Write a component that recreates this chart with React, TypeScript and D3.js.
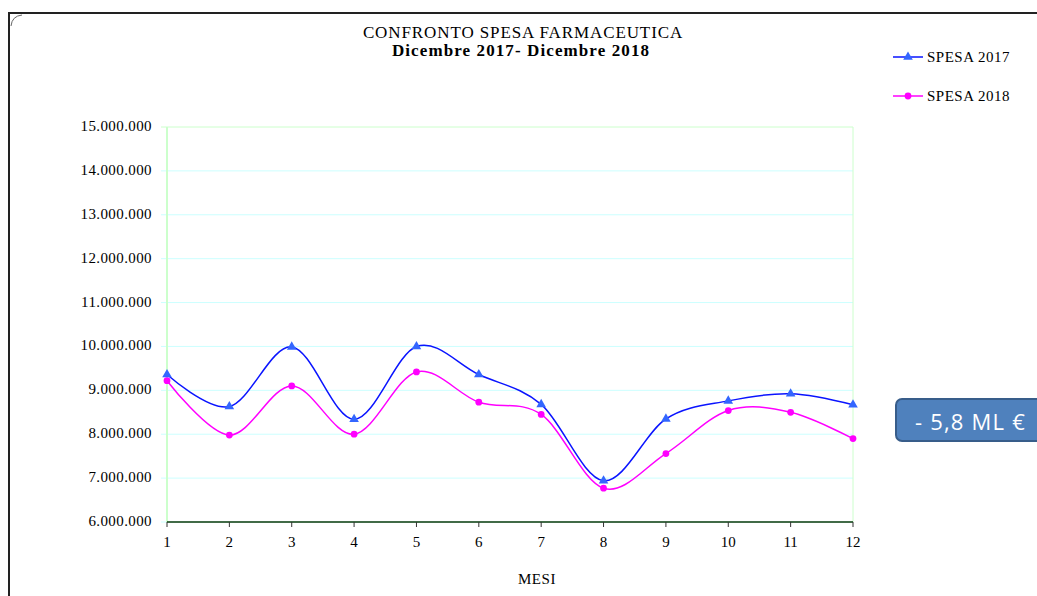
import React from "react";
import * as d3 from "d3";

const months = [1, 2, 3, 4, 5, 6, 7, 8, 9, 10, 11, 12];
const spesa2017 = [9360000, 8630000, 9990000, 8340000, 10000000, 9360000, 8680000, 6940000, 8350000, 8760000, 8920000, 8670000];
const spesa2018 = [9220000, 7980000, 9100000, 8000000, 9420000, 8730000, 8450000, 6770000, 7560000, 8540000, 8500000, 7900000];
const yTicks = [6000000, 7000000, 8000000, 9000000, 10000000, 11000000, 12000000, 13000000, 14000000, 15000000];
const titleLines = ["CONFRONTO SPESA FARMACEUTICA", "Dicembre 2017- Dicembre 2018"];
const seriesNames = ["SPESA 2017", "SPESA 2018"];
const badgeText = "- 5,8 ML €";
const xTitle = "MESI";

const W = 1037, H = 596;
const left = 167, right = 853, top = 127, bottom = 522;
const serif = "'Liberation Serif', 'DejaVu Serif', serif";

const fmt = (v: number) => d3.format(",")(v).replace(/,/g, ".");

export default function App() {
  const x = d3.scaleLinear().domain([1, 12]).range([left, right]);
  const y = d3.scaleLinear().domain([6000000, 15000000]).range([bottom, top]);
  const line = d3.line<number>().x((_, i) => x(months[i])).y((d) => y(d)).curve(d3.curveCardinal.tension(0));
  const tri = d3.symbol(d3.symbolTriangle, 40)();
  const circ = d3.symbol(d3.symbolCircle, 36)();
  const blue = "#0a14ff", blueMark = "#3366ff", pink = "#ff00ff";

  return (
    <svg width={W} height={H} style={{ position: "absolute", left: 0, top: 0, display: "block" }}>
      <rect x={0} y={0} width={W} height={H} fill="#fff" />
      {/* frame */}
      <rect x={9} y={13} width={1100} height={700} fill="none" stroke="#222" strokeWidth={2} />
      <path d="M11,26 Q12,16 22,15" fill="none" stroke="#666" strokeWidth={1} />
      {/* title */}
      <text x={523} y={38} textAnchor="middle" fontFamily={serif} fontSize={17} fill="#000" letterSpacing={0.9}>{titleLines[0]}</text>
      <text x={521} y={56} textAnchor="middle" fontFamily={serif} fontSize={17} fontWeight="bold" fill="#000" letterSpacing={1.1}>{titleLines[1]}</text>
      {/* gridlines */}
      {yTicks.map((t) => (
        <line key={t} x1={left - 6} x2={right} y1={y(t)} y2={y(t)} stroke={t === 15000000 ? "#ccffcc" : "#ccffff"} strokeWidth={1} />
      ))}
      <line x1={left} x2={left} y1={top} y2={bottom} stroke="#ccffcc" strokeWidth={2} />
      <line x1={right} x2={right} y1={top} y2={bottom} stroke="#ccffcc" strokeWidth={1} />
      <line x1={left} x2={right} y1={bottom} y2={bottom} stroke="#0a3a0a" strokeWidth={1.5} />
      {months.map((m) => (
        <line key={m} x1={x(m)} x2={x(m)} y1={bottom} y2={bottom + 5} stroke="#333" strokeWidth={1} />
      ))}
      {/* y labels */}
      {yTicks.map((t) => (
        <text key={t} x={152} y={y(t) + 4} textAnchor="end" fontFamily={serif} fontSize={15} fill="#000" letterSpacing={0.4}>{fmt(t)}</text>
      ))}
      {/* x labels */}
      {months.map((m) => (
        <text key={m} x={x(m)} y={547} textAnchor="middle" fontFamily={serif} fontSize={15} fill="#000">{m}</text>
      ))}
      <text x={537} y={584} textAnchor="middle" fontFamily={serif} fontSize={15} fill="#000" letterSpacing={0.6}>{xTitle}</text>
      {/* lines */}
      <path d={line(spesa2018) || ""} fill="none" stroke={pink} strokeWidth={1.5} />
      <path d={line(spesa2017) || ""} fill="none" stroke={blue} strokeWidth={1.5} />
      {spesa2018.map((v, i) => (
        <path key={i} d={circ || ""} transform={`translate(${x(months[i])},${y(v)})`} fill={pink} />
      ))}
      {spesa2017.map((v, i) => (
        <path key={i} d={tri || ""} transform={`translate(${x(months[i])},${y(v)})`} fill={blueMark} />
      ))}
      {/* legend */}
      <line x1={893} x2={923} y1={57} y2={57} stroke={blue} strokeWidth={1.5} />
      <path d={tri || ""} transform="translate(908,57)" fill={blueMark} />
      <text x={927} y={62} fontFamily={serif} fontSize={15} fill="#000" letterSpacing={0.5}>{seriesNames[0]}</text>
      <line x1={893} x2={923} y1={96} y2={96} stroke={pink} strokeWidth={1.5} />
      <path d={circ || ""} transform="translate(908,96)" fill={pink} />
      <text x={927} y={101} fontFamily={serif} fontSize={15} fill="#000" letterSpacing={0.5}>{seriesNames[1]}</text>
      {/* badge */}
      <rect x={896} y={399} width={160} height={42} rx={6} ry={6} fill="#4f81bd" stroke="#385d8a" strokeWidth={2} />
      <text x={915} y={430} fontFamily="'Open Sans', 'Liberation Sans', sans-serif" fontSize={22} fill="#fff" letterSpacing={1.2}>{badgeText}</text>
    </svg>
  );
}
